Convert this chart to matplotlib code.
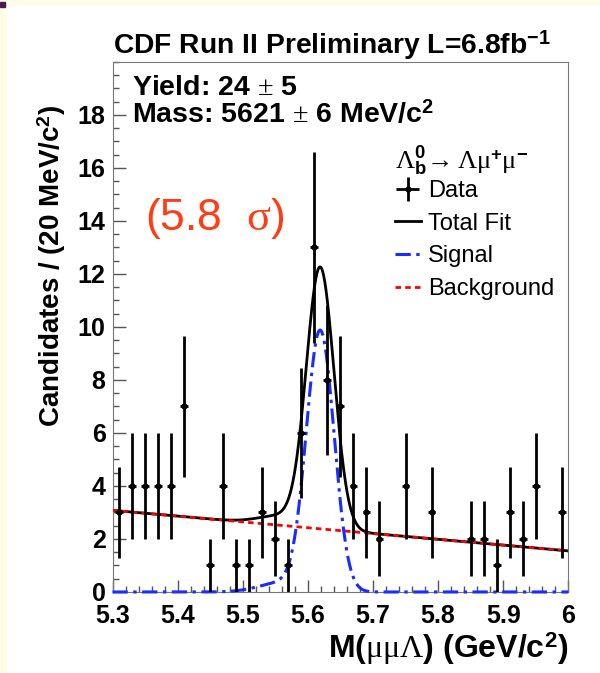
import numpy as np
import matplotlib
matplotlib.use('Agg')
import matplotlib.pyplot as plt
from matplotlib.ticker import MultipleLocator
from matplotlib.patches import Rectangle

plt.rcParams['font.family'] = ['Liberation Sans', 'DejaVu Sans']
plt.rcParams['mathtext.fontset'] = 'custom'
plt.rcParams['mathtext.rm'] = 'Liberation Serif'
plt.rcParams['mathtext.it'] = 'Liberation Serif:italic'
plt.rcParams['mathtext.bf'] = 'Liberation Sans:bold'
plt.rcParams['mathtext.default'] = 'rm'

# binned data (20 MeV bins, only non-empty bins)
mass = [5.31, 5.33, 5.35, 5.37, 5.39, 5.41, 5.45, 5.47, 5.49, 5.51,
        5.53, 5.55, 5.57, 5.59, 5.61, 5.63, 5.65, 5.67, 5.69, 5.71,
        5.75, 5.79, 5.85, 5.87, 5.89, 5.91, 5.93, 5.95, 5.99]
counts = [3, 4, 4, 4, 4, 7, 1, 4, 1, 1,
          3, 2, 1, 6, 13, 8, 7, 4, 3, 2,
          4, 3, 2, 2, 1, 3, 2, 4, 3]

# fit result
sig_mean = 5.619
sig_width = 0.0212
sig_height = 9.8
tail_mean = 5.56
tail_width = 0.035
tail_height = 0.35
bkg_x = [5.3, 6.0]
bkg_y = [3.08, 1.55]

fig = plt.figure(figsize=(6, 6.73), dpi=100)
ax = fig.add_axes([0.1875, 0.1204, 0.7597, 0.7875])

# slide decoration
fig.patches.append(Rectangle((0, 0.994), 1, 0.006, transform=fig.transFigure, color='#fffbe6', zorder=0))
fig.patches.append(Rectangle((0, 0), 0.01, 1, transform=fig.transFigure, color='#fffbe6', zorder=0))
fig.patches.append(Rectangle((0, 0.989), 0.009, 0.008, transform=fig.transFigure, color='#4a1a4a', zorder=1))

xf = np.linspace(5.3, 6.0, 701)
signal = (sig_height * np.exp(-0.5 * ((xf - sig_mean) / sig_width) ** 2)
          + tail_height * np.exp(-0.5 * ((xf - tail_mean) / tail_width) ** 2))
background = np.interp(xf, bkg_x, bkg_y)

l_tot, = ax.plot(xf, signal + background, color='black', lw=2, zorder=2, label='Total Fit')
l_bkg, = ax.plot(bkg_x, bkg_y, color='#ff0000', lw=2, ls=(0, (2, 1.5)), zorder=3, label='Background')
l_sig, = ax.plot(xf, signal, color='#1a2cff', lw=2.2, ls=(0, (5, 1.8, 1.1, 1.8)), zorder=3,
                 clip_on=False, label='Signal')
dat = ax.errorbar(mass, counts, yerr=np.sqrt(counts), xerr=0.006, fmt='o', ms=3.5,
                  color='black', elinewidth=2, capsize=0, zorder=4, label='Data')

ax.set_xlim(5.3, 6.0)
ax.set_ylim(0, 20)
ax.xaxis.set_minor_locator(MultipleLocator(0.02))
ax.yaxis.set_minor_locator(MultipleLocator(0.5))
ax.set_xticks(np.arange(5.3, 6.01, 0.1))
ax.set_xticklabels(['5.3', '5.4', '5.5', '5.6', '5.7', '5.8', '5.9', '6'])
ax.set_yticks(np.arange(0, 19, 2))
ax.tick_params(which='both', direction='in', top=False, right=False, color='#555555')
ax.tick_params(which='major', length=9, width=1, labelsize=18, pad=5)
ax.tick_params(axis='x', which='major', pad=9)
ax.tick_params(which='minor', length=4.5, width=1)
for lab in ax.get_xticklabels() + ax.get_yticklabels():
    lab.set_fontweight('bold')
for sp in ax.spines.values():
    sp.set_color('#777777')

fig.text(0.188, 0.921, r'CDF Run II Preliminary L=6.8fb$^{\mathbf{-1}}$',
         fontsize=20.3, fontweight='bold', ha='left', va='baseline')
fig.text(0.087, 1 - 105 / 673, r'Candidates / (20 MeV/c$^{\mathbf{2}}$)',
         fontsize=20, fontweight='bold', rotation=90, ha='center', va='top')
fig.text(0.947, 0.022, r'M($\mu\mu\Lambda$) (GeV/c$^{\mathbf{2}}$)',
         fontsize=23, fontweight='bold', ha='right', va='baseline')

ax.text(0.043, 0.938, r'Yield: 24 $\pm$ 5', transform=ax.transAxes,
        fontsize=20.5, fontweight='bold', ha='left', va='baseline')
ax.text(0.043, 0.887, r'Mass: 5621 $\pm$ 6 MeV/c$^{\mathbf{2}}$', transform=ax.transAxes,
        fontsize=20.5, fontweight='bold', ha='left', va='baseline')
fig.text(0.2417, 0.658, r'(5.8  $\sigma$)', color='#ff3c14', fontsize=32,
         ha='left', va='baseline')

leg = ax.legend([dat, l_tot, l_sig, l_bkg], ['Data', 'Total Fit', 'Signal', 'Background'],
                title=r'$\Lambda^{\mathbf{0}}_{\mathbf{b}}\!\rightarrow \Lambda\mu^{\mathbf{+}}\mu^{\mathbf{-}}$',
                loc='upper left', bbox_to_anchor=(0.593, 0.869), frameon=False,
                fontsize=17, title_fontsize=19, handlelength=1.1, handletextpad=0.3,
                labelspacing=0.45, borderpad=0, alignment='left')
leg._legend_box.sep = 2

fig.savefig('out.png', dpi=100)
